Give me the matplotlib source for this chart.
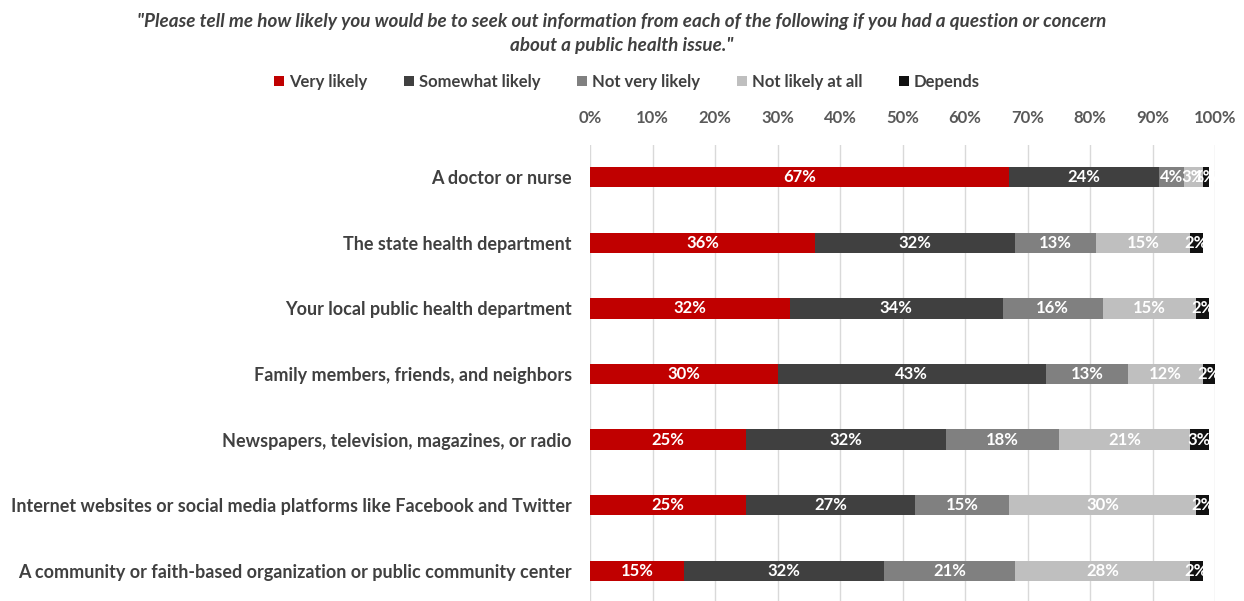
import matplotlib
matplotlib.use("Agg")
import matplotlib.pyplot as plt
from matplotlib.patches import Patch
import numpy as np

plt.rcParams['font.family'] = ['Lato', 'DejaVu Sans']

categories = [
    "A doctor or nurse",
    "The state health department",
    "Your local public health department",
    "Family members, friends, and neighbors",
    "Newspapers, television, magazines, or radio",
    "Internet websites or social media platforms like Facebook and Twitter",
    "A community or faith-based organization or public community center",
]
series_names = ["Very likely", "Somewhat likely", "Not very likely", "Not likely at all", "Depends"]
very_likely = [67, 36, 32, 30, 25, 25, 15]
somewhat_likely = [24, 32, 34, 43, 32, 27, 32]
not_very_likely = [4, 13, 16, 13, 18, 15, 21]
not_likely_at_all = [3, 15, 15, 12, 21, 30, 28]
depends = [1, 2, 2, 2, 3, 2, 2]
tick_values = list(range(0, 101, 10))
tick_labels = [f"{v}%" for v in tick_values]

series = [very_likely, somewhat_likely, not_very_likely, not_likely_at_all, depends]
colors = ["#C00000", "#404040", "#808080", "#BFBFBF", "#111111"]

fig = plt.figure(figsize=(12.44, 6.01), dpi=100)
ax = fig.add_axes([0.4743, 0.0, 0.9767 - 0.4743, 1 - 145 / 601])

y = np.arange(len(categories))
left = np.zeros(len(categories))
for vals, col in zip(series, colors):
    vals = np.array(vals, dtype=float)
    ax.barh(y, vals, left=left, height=0.31, color=col, zorder=3)
    for yi, l, v in zip(y, left, vals):
        ax.text(l + v / 2, yi, f"{int(v)}%", ha="center", va="center",
                color="white", fontsize=12, fontweight="bold", zorder=4)
    left += vals

ax.set_xlim(0, 100)
ax.set_ylim(6.46, -0.49)
ax.xaxis.tick_top()
ax.set_xticks(tick_values)
ax.set_xticklabels(tick_labels, fontsize=12, fontweight="bold", color="#595959")
ax.set_yticks(y)
ax.set_yticklabels(categories, fontsize=13, fontweight="bold", color="#404040")
ax.tick_params(axis="x", length=0, pad=14)
ax.tick_params(axis="y", length=0, pad=13)
for s in ax.spines.values():
    s.set_visible(False)
ax.grid(axis="x", color="#D9D9D9", linewidth=1, zorder=0)
ax.set_axisbelow(True)

fig.text(0.4996, 1 - 22 / 601,
         "\"Please tell me how likely you would be to seek out information from each of the following if you had a question or concern",
         ha="center", va="center", fontsize=13.6, fontweight="bold", style="italic", color="#404040")
fig.text(0.4996, 1 - 45 / 601, "about a public health issue.\"",
         ha="center", va="center", fontsize=13.6, fontweight="bold", style="italic", color="#404040")

handles = [Patch(facecolor=c, edgecolor="none") for c in colors]
fig.legend(handles, series_names, loc="center", bbox_to_anchor=(0.504, 1 - 82 / 601),
           ncol=5, frameon=False, handlelength=0.6, handleheight=0.6, handletextpad=0.3,
           columnspacing=2.2, prop={"size": 12, "weight": "bold"}, labelcolor="#404040")

fig.savefig("out.png", dpi=100)
